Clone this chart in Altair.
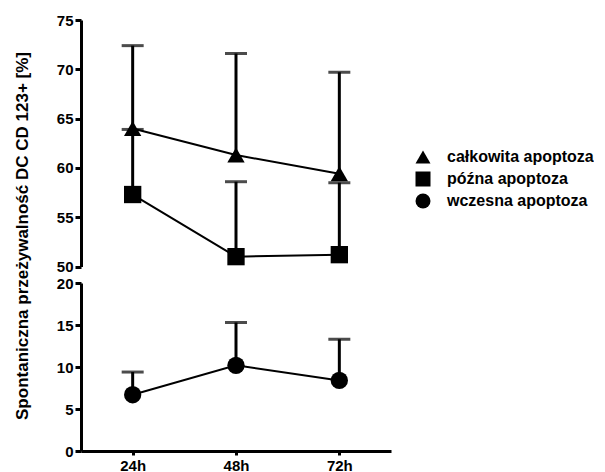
import altair as alt
import pandas as pd

times = ["24h", "48h", "72h"]
series_names = ["całkowita apoptoza", "późna apoptoza", "wczesna apoptoza"]
shapes = ["triangle-up", "square", "circle"]

calk_mean = [64.0, 61.3, 59.4]
calk_upper = [72.4, 71.6, 69.7]
pozna_mean = [57.3, 51.0, 51.2]
pozna_upper = [63.9, 58.6, 58.5]
wczesna_mean = [6.7, 10.2, 8.4]
wczesna_upper = [9.4, 15.3, 13.3]

y_title = "Spontaniczna przeżywalność DC CD 123+ [%]"
FONT = "Liberation Sans"


def frame(name, means, uppers):
    return pd.DataFrame({"time": times, "series": name, "mean": means, "upper": uppers})


df_top = pd.concat([frame(series_names[0], calk_mean, calk_upper),
                    frame(series_names[1], pozna_mean, pozna_upper)], ignore_index=True)
df_bot = frame(series_names[2], wczesna_mean, wczesna_upper)

xscale = alt.Scale(type="point", padding=0.5, domain=times)
axis_common = dict(domainColor="black", domainWidth=3, tickColor="black", tickWidth=3,
                   labelFont=FONT, labelFontWeight="bold", labelFontSize=15, labelColor="black",
                   grid=False)


def panel(df, domain, ticks, show_x, title, legend):
    x = alt.X("time:N", scale=xscale, sort=times,
              axis=(alt.Axis(title=None, labelAngle=0, tickSize=4, labelPadding=3, **axis_common)
                    if show_x else None))
    yax = alt.Axis(values=ticks, tickSize=6, labelPadding=2, **axis_common,
                   **(dict(title=title, titleFont=FONT, titleFontWeight="bold", titleFontSize=17,
                           titleColor="black", titlePadding=25, titleY=-47.5) if title else dict(title=None)))
    y = alt.Y("mean:Q", scale=alt.Scale(domain=domain, nice=False, zero=False), axis=yax)
    base = alt.Chart(df).encode(x=x)
    line = base.mark_line(color="black", strokeWidth=2).encode(y=y, detail="series:N")
    rule = base.mark_rule(color="black", strokeWidth=3).encode(y=y, y2="upper:Q")
    cap = base.mark_tick(color="black", thickness=3, size=22).encode(y=alt.Y("upper:Q"))
    shape_kwargs = dict(scale=alt.Scale(domain=series_names, range=shapes))
    if legend:
        shape_kwargs["legend"] = alt.Legend(title=None, orient="none", legendX=334, legendY=129,
                                            labelFont=FONT, labelFontWeight="bold", labelFontSize=16,
                                            labelColor="black", symbolSize=225, symbolFillColor="black",
                                            symbolStrokeColor="black", symbolStrokeWidth=0,
                                            symbolOpacity=1, labelOffset=16, rowPadding=6, padding=0)
    else:
        shape_kwargs["legend"] = None
    pts = base.mark_point(filled=True, color="black", opacity=1, size=300).encode(
        y=y, shape=alt.Shape("series:N", **shape_kwargs))
    return alt.layer(line, rule, cap, pts).properties(width=310, height=246.5 if not show_x else 168)


top = panel(df_top, [50, 75], [50, 55, 60, 65, 70, 75], False, None, True)
bot = panel(df_bot, [0, 20], [0, 5, 10, 15, 20], True, y_title, False)

chart = alt.vconcat(top, bot, spacing=16, bounds="flush").resolve_scale(shape="independent").resolve_legend(
    shape="independent").properties(
    padding={"left": 5, "top": 5, "right": 0, "bottom": 0},
    background="white"
).configure_view(stroke=None)

chart.save("out.html", embed_options={"renderer": "svg", "actions": False})
